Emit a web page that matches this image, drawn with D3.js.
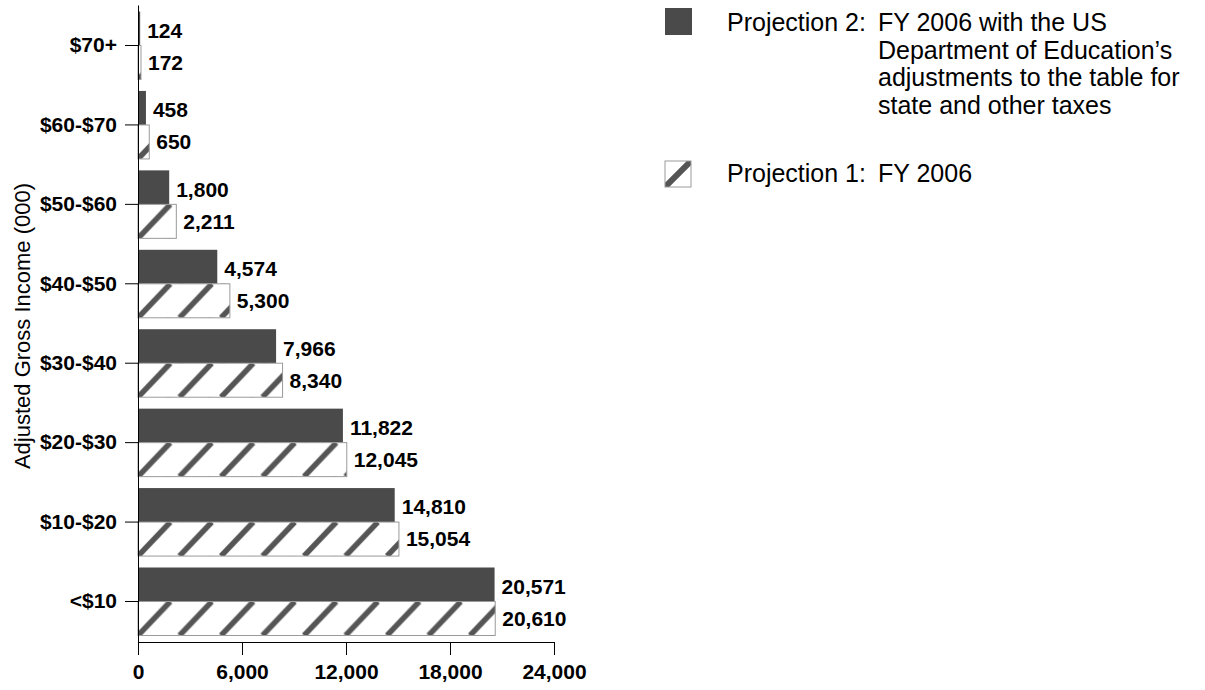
<!DOCTYPE html>
<html>
<head>
<meta charset="utf-8">
<script src="https://cdn.jsdelivr.net/npm/d3@7"></script>
<style>
  html, body { margin: 0; padding: 0; background: #fff; }
  svg { display: block; font-family: Arial, "Liberation Sans", sans-serif; }
</style>
</head>
<body>
<svg id="chart" width="1205" height="690"></svg>
<script>
// Income brackets, top to bottom
const categories = ["$70+", "$60-$70", "$50-$60", "$40-$50", "$30-$40", "$20-$30", "$10-$20", "<$10"];
// Projection 2: FY 2006 with adjustments for state and other taxes
const projection2 = [124, 458, 1800, 4574, 7966, 11822, 14810, 20571];
// Projection 1: FY 2006
const projection1 = [172, 650, 2211, 5300, 8340, 12045, 15054, 20610];
const xTicks = [0, 6000, 12000, 18000, 24000];
const yTitle = "Adjusted Gross Income (000)";
const legend2Head = "Projection 2:";
const legend2Lines = ["FY 2006 with the US", "Department of Education\u2019s", "adjustments to the table for", "state and other taxes"];
const legend1Head = "Projection 1:";
const legend1Lines = ["FY 2006"];

const svg = d3.select("#chart");
const darkFill = "#4a4a4a";
const stripeColor = "#555555";
const outline = "#9a9a9a";

const x = d3.scaleLinear().domain([0, 24000]).range([138, 554]);
const y = d3.scaleBand().domain(categories).range([5, 642])
  .paddingInner(0.144).paddingOuter(0.082);
const bw = y.bandwidth();
const hb = bw / 2;

// Hatch pattern: 45-degree stripes rising left to right
const stripeGap = 41.5;
const defs = svg.append("defs");
const pat = defs.append("pattern")
  .attr("id", "hatch")
  .attr("patternUnits", "userSpaceOnUse")
  .attr("width", stripeGap).attr("height", hb);
pat.append("rect").attr("width", stripeGap).attr("height", hb).attr("fill", "#fff");
[-stripeGap, 0, stripeGap].forEach(off => {
  pat.append("line")
    .attr("x1", off).attr("y1", hb)
    .attr("x2", off + hb * 0.95).attr("y2", 0)
    .attr("stroke", stripeColor).attr("stroke-width", 5.5);
});

// Bars
const groups = svg.append("g").selectAll("g")
  .data(categories.map((c, i) => ({ c, p2: projection2[i], p1: projection1[i] })))
  .join("g");

groups.append("rect")
  .attr("x", x(0))
  .attr("y", d => y(d.c))
  .attr("width", d => x(d.p2) - x(0))
  .attr("height", hb)
  .attr("fill", darkFill);

groups.append("g")
  .attr("transform", d => `translate(${x(0)},${y(d.c) + hb})`)
  .append("rect")
  .attr("x", 0).attr("y", 0)
  .attr("width", d => x(d.p1) - x(0))
  .attr("height", hb)
  .attr("fill", "url(#hatch)")
  .attr("stroke", outline)
  .attr("stroke-width", 1);

// Value labels
const fmt = d3.format(",");
groups.append("text")
  .attr("x", d => x(d.p2) + 7)
  .attr("y", d => y(d.c) + hb / 2 + 2)
  .attr("dy", "0.35em")
  .attr("font-size", 21).attr("font-weight", "bold")
  .text(d => fmt(d.p2));
groups.append("text")
  .attr("x", d => x(d.p1) + 7)
  .attr("y", d => y(d.c) + hb * 1.5)
  .attr("dy", "0.35em")
  .attr("font-size", 21).attr("font-weight", "bold")
  .text(d => fmt(d.p1));

// Axes
const xAxis = svg.append("g")
  .attr("transform", "translate(0,642)")
  .call(d3.axisBottom(x).tickValues(xTicks).tickFormat(fmt).tickSizeInner(13).tickSizeOuter(0).tickPadding(9));
const yAxis = svg.append("g")
  .attr("transform", `translate(${x(0)},0)`)
  .call(d3.axisLeft(y).tickSizeInner(13).tickSizeOuter(0).tickPadding(8));
[xAxis, yAxis].forEach(a => {
  a.selectAll("path, line").attr("stroke", "#000").attr("stroke-width", 1);
  a.selectAll("text").attr("font-size", 21).attr("font-weight", "bold")
    .attr("font-family", "Arial, 'Liberation Sans', sans-serif").attr("fill", "#000");
});

// Axis title
svg.append("text")
  .attr("transform", "translate(30,326) rotate(-90)")
  .attr("text-anchor", "middle")
  .attr("font-size", 22)
  .text(yTitle);

// Legend
const lg = svg.append("g");
lg.append("rect").attr("x", 665).attr("y", 8).attr("width", 27).attr("height", 27).attr("fill", darkFill);
const t2 = lg.append("text").attr("font-size", 25);
t2.append("tspan").attr("x", 727).attr("y", 31).text(legend2Head);
legend2Lines.forEach((l, i) => {
  t2.append("tspan").attr("x", 878).attr("y", 31 + i * 27.7).text(l);
});

const lk = lg.append("g").attr("transform", "translate(665,161)");
lk.append("clipPath").attr("id", "lkclip").append("rect").attr("width", 26).attr("height", 26);
lk.append("rect").attr("width", 26).attr("height", 26).attr("fill", "#fff");
lk.append("line").attr("x1", 0).attr("y1", 26).attr("x2", 26).attr("y2", 0)
  .attr("stroke", stripeColor).attr("stroke-width", 6).attr("clip-path", "url(#lkclip)");
lk.append("rect").attr("width", 26).attr("height", 26).attr("fill", "none")
  .attr("stroke", outline).attr("stroke-width", 1);
const t1 = lg.append("text").attr("font-size", 25);
t1.append("tspan").attr("x", 727).attr("y", 182).text(legend1Head);
t1.append("tspan").attr("x", 878).attr("y", 182).text(legend1Lines[0]);
</script>
</body>
</html>
